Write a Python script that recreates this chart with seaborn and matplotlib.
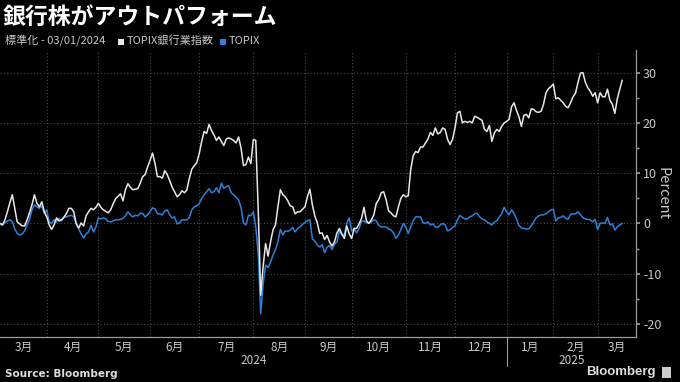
import numpy as np
import pandas as pd
import matplotlib
matplotlib.use("Agg")
import matplotlib.pyplot as plt
import matplotlib.transforms as mtransforms
from matplotlib.patches import Rectangle
from matplotlib.lines import Line2D
from matplotlib.ticker import MultipleLocator
import seaborn as sns

# ---------------- data (percent change, normalized to 03/01/2024) ----------------
start_date = "2024-03-01"
end_date = "2025-03-17"
jp_holidays = ["2024-03-20", "2024-04-29", "2024-05-03", "2024-05-06", "2024-07-15",
               "2024-08-12", "2024-09-16", "2024-09-23", "2024-10-14", "2024-11-04",
               "2024-12-31", "2025-01-01", "2025-01-02", "2025-01-03", "2025-01-13",
               "2025-02-11", "2025-02-24"]

bank_index = [
    0, 0.0, -0.3, 0.7, 2.3, 4.1, 5.7, 3.0, 0.3, -0.1,
    -0.5, -0.5, 0.7, 2.1, 3.7, 5.7, 4.0, 3.3, 4.3, 2.3,
    1.3, -0.3, -1.2, -0.3, 1.1, 0.5, 0.7, 1.2, 2.0, 3.0,
    3.0, 2.3, -0.1, -0.9, 0.1, -0.5, 1.5, 2.3, 3.0, 2.7,
    3.2, 4.0, 3.2, 2.7, 2.4, 2.1, 2.7, 3.9, 4.9, 5.4,
    5.9, 4.5, 6.7, 7.9, 7.2, 6.7, 6.8, 6.9, 8.0, 9.3,
    9.7, 11.2, 12.5, 14.0, 12.0, 9.3, 9.3, 9.0, 10.5, 9.7,
    8.5, 7.2, 6.3, 5.3, 5.7, 6.5, 6.1, 6.7, 9.0, 10.8,
    11.5, 12.1, 13.9, 16.3, 18.3, 17.9, 19.7, 18.5, 17.6, 16.5,
    17.2, 16.3, 15.5, 16.8, 17.0, 16.8, 16.5, 16.0, 17.2, 15.0,
    11.5, 11.7, 13.2, 11.9, 16.7, 16.5, 2.7, -14.3, -8.5, -4.0,
    -6.5, -3.7, -1.3, -0.3, 3.3, 6.7, 5.7, 5.3, 4.5, 3.5,
    3.3, 1.9, 2.3, 2.3, 2.8, 3.3, 5.3, 6.8, 3.7, 1.5,
    0.1, -2.0, -1.9, -3.2, -2.4, -3.7, -4.5, -3.7, -1.9, -1.0,
    -2.1, -3.0, -0.5, -2.1, -3.0, -1.0, -1.0, -0.1, 1.0, 3.2,
    0.5, 0.0, 0.7, 1.7, 4.0, 4.7, 6.1, 6.3, 4.7, 2.5,
    2.1, 1.5, 1.3, 3.3, 5.0, 5.7, 5.3, 5.5, 10.7, 13.5,
    14.3, 14.1, 15.2, 15.2, 16.0, 16.8, 18.1, 17.5, 19.0, 17.8,
    18.1, 19.0, 18.7, 16.7, 15.7, 16.7, 19.0, 22.0, 22.3, 20.0,
    20.3, 20.1, 20.3, 20.0, 21.3, 21.1, 20.8, 20.5, 18.7, 18.3,
    19.5, 16.3, 18.0, 18.7, 18.3, 19.3, 20.0, 20.3, 20.7, 23.2,
    24.0, 22.5, 21.2, 19.3, 21.5, 21.7, 21.0, 22.8, 22.7, 22.2,
    22.1, 22.3, 23.7, 26.0, 26.8, 27.2, 27.7, 24.8, 25.0, 24.5,
    24.0, 23.3, 23.0, 24.0, 25.2, 25.9, 28.0, 29.9, 30.0, 28.1,
    27.0, 26.3, 25.3, 26.0, 24.0, 26.0, 25.2, 25.2, 26.7, 24.5,
    23.7, 21.9, 24.8, 26.7, 28.5,
]

topix = [
    0, 0.0, -0.3, 0.1, 0.5, 0.7, 0.4, -1.1, -2.0, -2.3,
    -2.1, -1.5, -0.3, 0.8, 2.7, 3.7, 3.3, 3.0, 3.5, 2.0,
    2.7, 0.3, 0.0, 0.7, 0.3, 1.0, 0.5, 1.3, 1.3, 1.5,
    1.6, 1.3, 0.0, -1.1, -2.1, -2.9, -2.1, -1.7, -0.4, -1.7,
    -0.7, 1.1, 0.9, 1.1, 0.9, 0.4, 0.3, 0.5, 0.7, 0.7,
    0.8, 1.0, 1.5, 2.3, 1.7, 1.3, 1.6, 1.5, 2.0, 2.0,
    1.3, 1.7, 2.3, 3.1, 2.9, 1.9, 1.9, 1.7, 2.5, 2.7,
    1.7, 1.1, 1.3, -0.1, 0.1, 0.7, 0.7, 0.7, 1.2, 2.7,
    3.3, 3.5, 3.9, 5.0, 5.7, 6.3, 6.9, 6.1, 6.3, 7.1,
    6.1, 8.0, 7.0, 7.3, 7.5, 6.1, 5.7, 5.2, 4.7, 3.2,
    0.1, -0.3, 1.6, 1.5, 2.3, -0.7, -6.0, -18.0, -12.0, -8.3,
    -8.8, -7.7, -6.3, -5.2, -3.7, -1.2, -2.3, -1.5, -1.6, -1.3,
    -0.8, -1.7, -1.0, -0.7, -0.2, 0.2, 0.5, 0.7, -3.1, -3.5,
    -4.3, -4.7, -4.2, -5.8, -4.7, -4.4, -5.2, -4.1, -3.7, -1.5,
    -2.3, -2.3, 0.0, 1.1, -1.5, -1.0, -1.9, -1.0, 0.4, 0.5,
    0.1, 0.1, 0.3, 0.7, 0.5, -0.4, -0.7, -0.7, -0.7, -1.1,
    -1.3, -1.9, -3.0, -2.3, -1.2, 0.0, -0.7, -2.0, -0.7, 0.5,
    1.3, 1.3, 1.3, 0.1, 0.0, 0.3, -0.3, -0.1, -0.7, -0.8,
    -0.3, 0.0, -0.3, -1.5, -1.3, -0.8, -0.5, 0.7, 1.6, 1.2,
    0.9, 0.9, 1.3, 1.5, 1.9, 2.0, 1.3, 0.9, 0.7, 0.3,
    0.0, -0.3, 0.3, 0.5, 1.3, 1.9, 3.2, 2.3, 1.7, 2.7,
    2.0, 0.9, -0.4, -0.9, -1.0, -1.1, -1.1, -0.5, 0.3, 1.1,
    1.5, 1.7, 1.7, 1.9, 2.3, 2.7, 2.8, 0.5, 1.1, 1.2,
    1.5, 1.0, 0.8, 1.8, 1.9, 1.9, 2.3, 1.8, 1.1, 0.9,
    0.8, 0.7, 0.3, 0.8, -1.2, 0.0, 0.1, 0.0, 1.2, -0.3,
    -0.1, -1.3, -0.7, -0.3, 0.0,
]

series_names = ["TOPIX銀行業指数", "TOPIX"]
month_labels = ["3月", "4月", "5月", "6月", "7月", "8月", "9月", "10月", "11月",
                "12月", "1月", "2月", "3月"]
year_labels = ["2024", "2025"]
y_ticks = [-20, -10, 0, 10, 20, 30]

# ---------------- styling ----------------
BG = "#000000"
WHITE_LINE = "#e8e8e8"
BLUE_LINE = "#2f80d8"
GRID = "#4a4a4a"
AXIS = "#9a9a9a"
TEXT = "#c8c8c8"

sns.set_theme(style="dark")
plt.rcParams["font.family"] = ["Noto Sans CJK JP", "DejaVu Sans"]
plt.rcParams["axes.unicode_minus"] = False

# trading-day calendar (x axis is in trading days)
days = pd.bdate_range(start_date, end_date)
days = days[~days.isin(pd.to_datetime(jp_holidays))]
n = min(len(days), len(bank_index))
days = days[:n]
df = pd.DataFrame({
    "pos": np.arange(n),
    "date": days,
    series_names[0]: bank_index[:n],
    series_names[1]: topix[:n],
})
long = df.melt(id_vars=["pos", "date"], value_vars=series_names,
               var_name="series", value_name="value")

fig = plt.figure(figsize=(6.8, 3.82), dpi=100, facecolor=BG)
ax = fig.add_axes([0.0, 1 - 337 / 382, 636 / 680, (337 - 50) / 382])
ax.set_facecolor(BG)

sns.lineplot(data=long, x="pos", y="value", hue="series", hue_order=series_names[::-1],
             palette={series_names[0]: WHITE_LINE, series_names[1]: BLUE_LINE},
             linewidth=1.1, ax=ax, legend=False, estimator=None, sort=False)

# month boundaries
month_key = days.year * 12 + days.month
starts = [i for i in range(1, n) if month_key[i] != month_key[i - 1]]
x_left, x_right = 1.0, 259.6
ax.set_xlim(x_left, x_right)
ax.set_ylim(-22.6, 34.5)

ax.set_xticks(starts)
ax.set_xticklabels([])
ax.tick_params(axis="x", direction="in", length=3, color=AXIS, width=0.8)
ax.grid(True, axis="both", color=GRID, linestyle=(0, (1, 2)), linewidth=0.8)

# y axis on the right
ax.yaxis.tick_right()
ax.yaxis.set_label_position("right")
ax.set_yticks(y_ticks)
ax.set_yticklabels([str(t) for t in y_ticks], color=TEXT, fontsize=9)
ax.yaxis.set_minor_locator(MultipleLocator(5))
ax.tick_params(axis="y", which="major", direction="out", length=3, color=AXIS, pad=2)
ax.tick_params(axis="y", which="minor", direction="out", length=2, color=AXIS)
ax.grid(False, which="minor")
ax.set_ylabel("Percent", color=TEXT, fontsize=10.5, rotation=270, labelpad=6)
ax.set_xlabel("")

for side in ["left", "top"]:
    ax.spines[side].set_visible(False)
for side in ["right", "bottom"]:
    ax.spines[side].set_visible(True)
    ax.spines[side].set_color(AXIS)
    ax.spines[side].set_linewidth(0.9)

# month labels centered in each visible month span
trans = mtransforms.blended_transform_factory(ax.transData, ax.transAxes)
edges = [x_left] + starts + [x_right]
for k, lab in enumerate(month_labels[: len(edges) - 1]):
    mid = (edges[k] + edges[k + 1]) / 2
    ax.text(mid, -0.012, lab, transform=trans, ha="center", va="top",
            color=TEXT, fontsize=8.5)

# year labels and separator
jan_idx = [s for s in starts if days[s].month == 1][0]
ax.text((x_left + jan_idx) / 2, -0.058, year_labels[0], transform=trans,
        ha="center", va="top", color=TEXT, fontsize=8.5)
ax.text((jan_idx + x_right) / 2, -0.058, year_labels[1], transform=trans,
        ha="center", va="top", color=TEXT, fontsize=8.5)
ax.add_line(Line2D([jan_idx, jan_idx], [0, -0.10], transform=trans, color=AXIS,
                   linewidth=0.8, clip_on=False))

# title and legend header
fig.text(0.004, 1 - 17 / 382, "銀行株がアウトパフォーム", color="white",
         fontsize=16.5, fontweight="bold", ha="left", va="center")
fig.text(5 / 680, 1 - 41 / 382, "標準化 - 03/01/2024", color=TEXT, fontsize=8,
         ha="left", va="center")
fig.add_artist(Rectangle((118 / 680, 1 - 45 / 382), 6 / 680, 6 / 382,
                         transform=fig.transFigure, color=WHITE_LINE, lw=0))
fig.text(127 / 680, 1 - 41 / 382, series_names[0], color=TEXT, fontsize=8,
         ha="left", va="center")
fig.add_artist(Rectangle((220 / 680, 1 - 45 / 382), 6 / 680, 6 / 382,
                         transform=fig.transFigure, color=BLUE_LINE, lw=0))
fig.text(229 / 680, 1 - 41 / 382, series_names[1], color=TEXT, fontsize=8,
         ha="left", va="center")

# footer
fig.text(5 / 680, 1 - 374 / 382, "Source: Bloomberg", color="#dddddd", fontsize=7.5,
         fontweight="bold", ha="left", va="center", family=["DejaVu Sans"])
fig.text(656 / 680, 1 - 372 / 382, "Bloomberg", color="#dddddd", fontsize=9.5,
         fontweight="bold", ha="right", va="center", family=["Liberation Sans"])
fig.add_artist(Rectangle((662 / 680, 1 - 378 / 382), 9 / 680, 11 / 382,
                         transform=fig.transFigure, color="#cccccc", lw=0))

fig.savefig("out.png", dpi=100, facecolor=BG)
